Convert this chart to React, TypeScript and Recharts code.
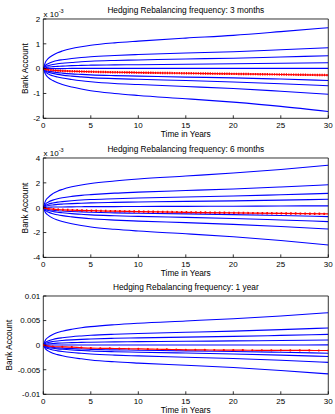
import React from 'react';
import { LineChart, Line, XAxis, YAxis } from 'recharts';

const FONT = "'Liberation Sans', Arial, Helvetica, sans-serif";

// time grid (years) for the blue percentile paths
const TIMES = [0, 0.25, 0.5, 1, 1.5, 2, 3, 4, 5, 7.5, 10, 15, 20, 25, 30];
// yearly grid (rebalancing markers of the 1-year panel)
const YEARS = [0, 1, 2, 3, 4, 5, 6, 7, 8, 9, 10, 11, 12, 13, 14, 15, 16, 17, 18, 19, 20, 21, 22, 23, 24, 25, 26, 27, 28, 29, 30];
const X_TICKS = [0, 5, 10, 15, 20, 25, 30];

const TITLES = [
  'Hedging Rebalancing frequency: 3 months',
  'Hedging Rebalancing frequency: 6 months',
  'Hedging Rebalancing frequency: 1 year',
];
const X_LABEL = 'Time in Years';
const Y_LABEL = 'Bank Account';

// Panel 1 (3 months), values in units of 1e-3
const P1_BLUE = [
  [0, 0.28, 0.40, 0.54, 0.64, 0.71, 0.81, 0.88, 0.94, 1.04, 1.11, 1.23, 1.34, 1.49, 1.65],
  [0, 0.14, 0.20, 0.28, 0.33, 0.36, 0.41, 0.45, 0.48, 0.53, 0.57, 0.63, 0.68, 0.76, 0.84],
  [0, 0.09, 0.12, 0.17, 0.20, 0.22, 0.25, 0.28, 0.30, 0.33, 0.35, 0.39, 0.42, 0.47, 0.52],
  [0, 0.04, 0.06, 0.08, 0.09, 0.10, 0.12, 0.13, 0.14, 0.15, 0.16, 0.18, 0.20, 0.22, 0.24],
  [0, 0.00, 0.00, 0.00, 0.00, 0.00, 0.01, 0.01, 0.01, 0.01, 0.01, 0.01, 0.01, 0.01, 0.01],
  [0, -0.07, -0.10, -0.13, -0.16, -0.18, -0.21, -0.23, -0.25, -0.28, -0.30, -0.34, -0.37, -0.42, -0.48],
  [0, -0.10, -0.14, -0.19, -0.23, -0.26, -0.30, -0.33, -0.36, -0.40, -0.43, -0.48, -0.54, -0.61, -0.69],
  [0, -0.14, -0.21, -0.29, -0.34, -0.38, -0.44, -0.49, -0.53, -0.60, -0.64, -0.72, -0.80, -0.91, -1.03],
  [0, -0.24, -0.35, -0.48, -0.57, -0.64, -0.74, -0.82, -0.89, -1.00, -1.08, -1.21, -1.35, -1.52, -1.73],
];
const P1_RED = [0, -0.03, -0.045, -0.065, -0.08, -0.09, -0.105, -0.115, -0.125, -0.145, -0.16, -0.185, -0.21, -0.235, -0.26];

// Panel 2 (6 months), values in units of 1e-3
const P2_BLUE = [
  [0, 0.58, 0.82, 1.13, 1.33, 1.47, 1.68, 1.83, 1.95, 2.15, 2.31, 2.55, 2.79, 3.08, 3.42],
  [0, 0.31, 0.44, 0.61, 0.72, 0.80, 0.91, 0.99, 1.05, 1.17, 1.25, 1.38, 1.51, 1.67, 1.85],
  [0, 0.20, 0.28, 0.38, 0.45, 0.49, 0.56, 0.62, 0.66, 0.72, 0.78, 0.86, 0.94, 1.04, 1.15],
  [0, 0.12, 0.16, 0.22, 0.27, 0.29, 0.33, 0.36, 0.39, 0.43, 0.46, 0.51, 0.55, 0.61, 0.68],
  [0, 0.03, 0.04, 0.05, 0.06, 0.06, 0.07, 0.08, 0.09, 0.09, 0.10, 0.11, 0.12, 0.14, 0.15],
  [0, -0.10, -0.14, -0.20, -0.24, -0.27, -0.31, -0.34, -0.37, -0.42, -0.45, -0.50, -0.56, -0.63, -0.72],
  [0, -0.16, -0.22, -0.31, -0.37, -0.41, -0.48, -0.53, -0.58, -0.65, -0.70, -0.78, -0.87, -0.99, -1.12],
  [0, -0.24, -0.34, -0.48, -0.57, -0.64, -0.74, -0.82, -0.89, -1.00, -1.08, -1.20, -1.34, -1.51, -1.72],
  [0, -0.42, -0.60, -0.84, -0.99, -1.11, -1.29, -1.43, -1.55, -1.74, -1.88, -2.10, -2.34, -2.64, -3.00],
];
const P2_RED = [0, -0.05, -0.08, -0.12, -0.15, -0.17, -0.20, -0.22, -0.24, -0.28, -0.31, -0.37, -0.42, -0.46, -0.50];

// Panel 3 (1 year), values in units of 1e-3
const P3_BLUE = [
  [0, 1.12, 1.58, 2.18, 2.57, 2.84, 3.23, 3.53, 3.76, 4.16, 4.46, 4.92, 5.38, 5.94, 6.60],
  [0, 0.60, 0.84, 1.16, 1.37, 1.51, 1.72, 1.87, 2.00, 2.21, 2.36, 2.61, 2.85, 3.15, 3.50],
  [0, 0.37, 0.53, 0.73, 0.86, 0.95, 1.08, 1.18, 1.25, 1.39, 1.49, 1.64, 1.79, 1.98, 2.20],
  [0, 0.18, 0.25, 0.35, 0.41, 0.45, 0.51, 0.56, 0.60, 0.66, 0.71, 0.78, 0.86, 0.95, 1.05],
  [0, 0.01, 0.01, 0.02, 0.02, 0.02, 0.03, 0.03, 0.03, 0.03, 0.03, 0.04, 0.04, 0.04, 0.05],
  [0, -0.23, -0.33, -0.46, -0.54, -0.61, -0.71, -0.78, -0.85, -0.96, -1.03, -1.16, -1.29, -1.45, -1.65],
  [0, -0.32, -0.46, -0.64, -0.76, -0.85, -0.99, -1.09, -1.18, -1.33, -1.44, -1.61, -1.79, -2.02, -2.30],
  [0, -0.49, -0.70, -0.98, -1.16, -1.30, -1.51, -1.66, -1.80, -2.03, -2.19, -2.45, -2.73, -3.08, -3.50],
  [0, -0.82, -1.17, -1.64, -1.93, -2.16, -2.52, -2.78, -3.01, -3.39, -3.66, -4.10, -4.56, -5.15, -5.85],
];
const P3_RED = [0, -0.27, -0.34, -0.41, -0.52, -0.61, -0.64, -0.67, -0.70, -0.73, -0.75, -0.79, -0.83, -0.87, -0.91, -0.95,
  -0.96, -0.98, -0.99, -1.01, -1.02, -1.03, -1.04, -1.05, -1.06, -1.06, -1.07, -1.08, -1.08, -1.09, -1.09];

const Y_TICKS_1 = [-2, -1, 0, 1, 2];
const Y_TICKS_2 = [-4, -2, 0, 2, 4];
const Y_TICKS_3 = [-10, -5, 0, 5, 10];

const PLOT_LEFT = 43.3;
const PLOT_RIGHT = 328.3;

type PanelProps = {
  plotTop: number;
  plotBottom: number;
  blue: number[][];
  red: number[];
  redTimes: number[];
  redMode: 'dense1' | 'dense2' | 'dots';
  yTicks: number[];
  yFormat: (v: number) => string;
};

function Panel({ plotTop, plotBottom, blue, red, redTimes, redMode, yTicks, yFormat }: PanelProps) {
  const rows = TIMES.map((t, i) => {
    const row: Record<string, number> = { t };
    blue.forEach((s, k) => {
      row['b' + k] = s[i];
    });
    return row;
  });
  const redData = redTimes.map((t, i) => ({ t, r: red[i] }));
  const h = plotBottom - plotTop;
  const height = 19 + h + 20;
  const yDomain = [yTicks[0], yTicks[yTicks.length - 1]];
  const tickStyle = { fontSize: 8, fill: '#000', fontFamily: FONT };
  return (
    <div style={{ position: 'absolute', left: 0, top: plotTop - 19, width: 335, height }}>
      <LineChart
        width={335}
        height={height}
        data={rows}
        margin={{ top: 18, right: 335 - PLOT_RIGHT - 1, bottom: 0, left: 0 }}
      >
        <XAxis
          xAxisId="b"
          dataKey="t"
          type="number"
          domain={[0, 30]}
          ticks={X_TICKS}
          interval={0}
          orientation="bottom"
          height={20}
          tickSize={-3}
          tickMargin={6.6}
          tick={tickStyle}
          stroke="#000"
          strokeWidth={0.8}
          allowDataOverflow
        />
        <XAxis
          xAxisId="t"
          dataKey="t"
          type="number"
          domain={[0, 30]}
          ticks={X_TICKS}
          interval={0}
          orientation="top"
          height={1}
          tickSize={-3}
          tick={false}
          stroke="#000"
          strokeWidth={0.8}
          allowDataOverflow
        />
        <YAxis
          yAxisId="l"
          type="number"
          domain={yDomain}
          ticks={yTicks}
          interval={0}
          orientation="left"
          width={PLOT_LEFT}
          tickSize={-3}
          tickMargin={6}
          tick={tickStyle}
          tickFormatter={yFormat}
          stroke="#000"
          strokeWidth={0.8}
          allowDataOverflow
        />
        <YAxis
          yAxisId="r"
          type="number"
          domain={yDomain}
          ticks={yTicks}
          interval={0}
          orientation="right"
          width={1}
          tickSize={-3}
          tick={false}
          stroke="#000"
          strokeWidth={0.8}
          allowDataOverflow
        />
        {blue.map((_, k) => (
          <Line
            key={'b' + k}
            xAxisId="b"
            yAxisId="l"
            dataKey={'b' + k}
            type="monotone"
            stroke="#0000ff"
            strokeWidth={1.1}
            dot={false}
            isAnimationActive={false}
          />
        ))}
        <Line
          xAxisId="b"
          yAxisId="l"
          data={redData}
          dataKey="r"
          type="monotone"
          stroke="#ff0000"
          strokeWidth={1.2}
          dot={redMode === 'dots' ? { r: 1.1, fill: '#ff0000', stroke: '#ff0000', strokeWidth: 0 } : false}
          isAnimationActive={false}
        />
        {redMode !== 'dots' && (
          <Line
            xAxisId="b"
            yAxisId="l"
            data={redData}
            dataKey="r"
            type="monotone"
            stroke="#ff0000"
            strokeWidth={2.4}
            strokeDasharray={redMode === 'dense1' ? '1.2 1.18' : '1.6 3.15'}
            dot={false}
            isAnimationActive={false}
          />
        )}
      </LineChart>
    </div>
  );
}

const PANELS = [
  { top: 19, bottom: 118.3, ylabelX: 28.3, exponent: true },
  { top: 158.3, bottom: 257.7, ylabelX: 28.3, exponent: true },
  { top: 296, bottom: 394.3, ylabelX: 11.7, exponent: false },
];

export default function App() {
  const cx = (PLOT_LEFT + PLOT_RIGHT) / 2;
  const fmtInt = (v: number) => String(v);
  const fmtMilli = (v: number) => String(v / 1000);
  return (
    <div style={{ position: 'absolute', left: 0, top: 0, width: 335, height: 414, background: '#fff' }}>
      <Panel plotTop={PANELS[0].top} plotBottom={PANELS[0].bottom} blue={P1_BLUE} red={P1_RED} redTimes={TIMES} redMode="dense1" yTicks={Y_TICKS_1} yFormat={fmtInt} />
      <Panel plotTop={PANELS[1].top} plotBottom={PANELS[1].bottom} blue={P2_BLUE} red={P2_RED} redTimes={TIMES} redMode="dense2" yTicks={Y_TICKS_2} yFormat={fmtInt} />
      <Panel plotTop={PANELS[2].top} plotBottom={PANELS[2].bottom} blue={P3_BLUE} red={P3_RED} redTimes={YEARS} redMode="dots" yTicks={Y_TICKS_3} yFormat={fmtMilli} />
      <svg
        width={335}
        height={414}
        style={{ position: 'absolute', left: 0, top: 0, pointerEvents: 'none' }}
        fontFamily={FONT}
      >
        {PANELS.map((p, i) => (
          <g key={i}>
            <text x={cx} y={p.top - 6.3} fontSize={8.3} textAnchor="middle" fill="#000">
              {TITLES[i]}
            </text>
            <text x={cx} y={p.bottom + 18.3} fontSize={8.3} textAnchor="middle" fill="#000">
              {X_LABEL}
            </text>
            <text
              x={p.ylabelX}
              y={(p.top + p.bottom) / 2}
              fontSize={8.3}
              textAnchor="middle"
              fill="#000"
              transform={`rotate(-90 ${p.ylabelX} ${(p.top + p.bottom) / 2})`}
            >
              {Y_LABEL}
            </text>
            {p.exponent && (
              <text x={43.5} y={p.top - 2.3} fontSize={8} fill="#000">
                x 10
                <tspan dy={-4} fontSize={5.5}>
                  -3
                </tspan>
              </text>
            )}
          </g>
        ))}
      </svg>
    </div>
  );
}
